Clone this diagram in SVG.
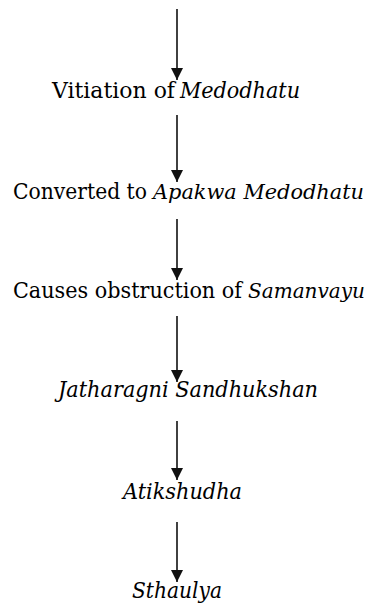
<svg xmlns="http://www.w3.org/2000/svg" width="371" height="605" viewBox="0 0 371 605">
<style>
text{font-family:"DejaVu Serif","Liberation Serif",serif;font-size:22px;fill:#000}
.i{font-style:italic}
.s{font-size:21px}
.c line{stroke:#111;stroke-width:1.6}
</style>
<defs>
<marker id="ah" markerUnits="userSpaceOnUse" markerWidth="12" markerHeight="13" refX="12" refY="6" orient="auto" viewBox="0 0 12 12">
<path d="M0,0 L12,6 L0,12 Z" fill="#111"/>
</marker>
</defs>
<rect width="371" height="605" fill="#fff"/>
<g class="c" id="connectors">
<line x1="177" y1="9" x2="177" y2="80" marker-end="url(#ah)"/>
<line x1="177" y1="115" x2="177" y2="182" marker-end="url(#ah)"/>
<line x1="177" y1="219" x2="177" y2="280" marker-end="url(#ah)"/>
<line x1="177" y1="316" x2="177" y2="382" marker-end="url(#ah)"/>
<line x1="177" y1="421" x2="177" y2="480" marker-end="url(#ah)"/>
<line x1="177" y1="522" x2="177" y2="582" marker-end="url(#ah)"/>
</g>
<g id="n1">
<text x="52" y="98" textLength="123" lengthAdjust="spacingAndGlyphs">Vitiation of</text>
<text class="i" x="180" y="98" textLength="120" lengthAdjust="spacingAndGlyphs">Medodhatu</text>
</g>
<g id="n2">
<text x="13" y="199" textLength="134" lengthAdjust="spacingAndGlyphs">Converted to</text>
<text class="i s" x="153" y="199" textLength="211" lengthAdjust="spacingAndGlyphs">Apakwa Medodhatu</text>
</g>
<g id="n3">
<text x="13" y="298" textLength="229" lengthAdjust="spacingAndGlyphs">Causes obstruction of</text>
<text class="i s" x="248" y="298" textLength="117" lengthAdjust="spacingAndGlyphs">Samanvayu</text>
</g>
<g id="n4"><text class="i" x="58" y="397" textLength="260" lengthAdjust="spacingAndGlyphs">Jatharagni Sandhukshan</text></g>
<g id="n5"><text class="i" x="123" y="499" textLength="119" lengthAdjust="spacingAndGlyphs">Atikshudha</text></g>
<g id="n6"><text class="i" x="132" y="598" textLength="90" lengthAdjust="spacingAndGlyphs">Sthaulya</text></g>
</svg>
